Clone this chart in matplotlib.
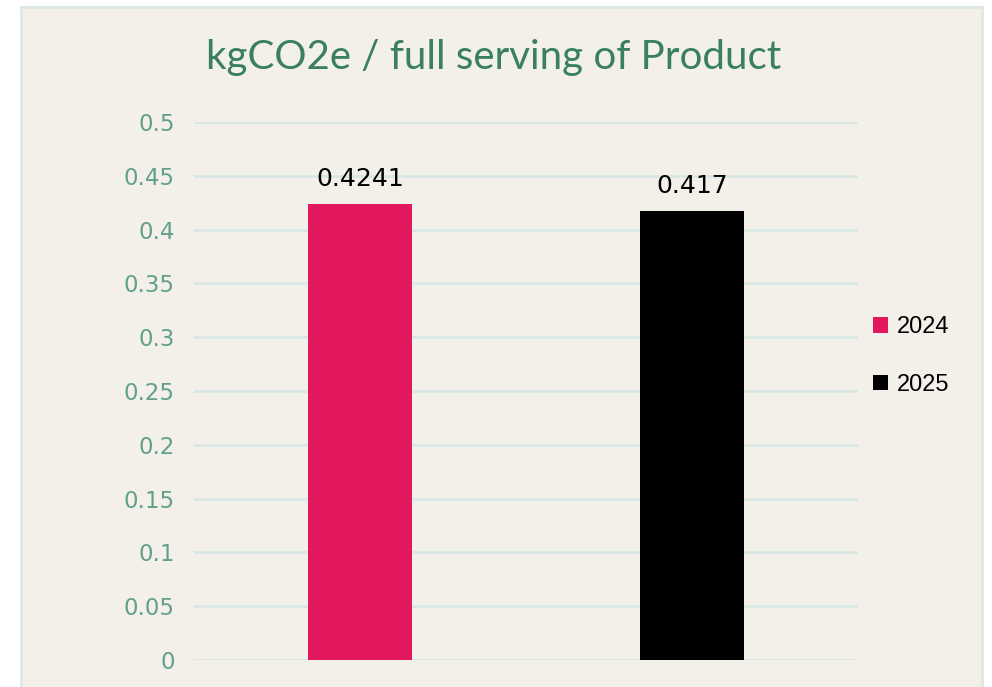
import numpy as np
import matplotlib
matplotlib.use("Agg")
import matplotlib.pyplot as plt
from matplotlib.patches import Rectangle

#==========================================================================
#			DATA
#==========================================================================
years = ['2024', '2025']
values = [0.4241, 0.417]
value_labels = ['0.4241', '0.417']
bar_colors = ['#E2185F', '#000000']
yticks = [0, 0.05, 0.1, 0.15, 0.2, 0.25, 0.3, 0.35, 0.4, 0.45, 0.5]
ytick_labels = ['0', '0.05', '0.1', '0.15', '0.2', '0.25', '0.3', '0.35', '0.4', '0.45', '0.5']
title = 'kgCO2e / full serving of Product'

#==========================================================================
#			PLOTTING
#==========================================================================
W, H = 992, 687
fig = plt.figure(figsize=(W / 100., H / 100.), dpi=100)
fig.patch.set_facecolor('white')

#Chart panel (behind the axes)
panel = Rectangle((21. / W, -0.01), 961. / W, (H - 7.) / H + 0.01, transform=fig.transFigure,
                  facecolor='#F3F0EA', edgecolor='#DCE8E4', linewidth=2, zorder=-10)
fig.patches.append(panel)

ax = fig.add_axes([194. / W, 1 - 660. / H, 664. / W, (660. - 122.) / H])
ax.set_facecolor('none')
ax.set_zorder(1)

x = np.arange(len(years))
bars = ax.bar(x, values, width=0.316, color=bar_colors, label=years, zorder=3)

for xi, v, lab in zip(x, values, value_labels):
    ax.text(xi, v + 0.012, lab, ha='center', va='bottom', fontsize=18,
            family='DejaVu Sans', color='black')

ax.set_xlim(-0.5, 1.5)
ax.set_ylim(0, 0.5)
ax.set_yticks(yticks)
ax.set_yticklabels(ytick_labels, fontsize=16.5, color='#62A08C', family='DejaVu Sans')
ax.tick_params(axis='y', length=0, pad=14)
ax.set_xticks([])
ax.grid(axis='y', color='#D9E8E3', linewidth=2, zorder=0)
for s in ax.spines.values():
    s.set_visible(False)

fig.text(494. / W, 1 - 58. / H, title, ha='center', va='center', fontsize=29,
         color='#3A7F62', family='Lato')

#Legend
leg = ax.legend(handles=list(bars), labels=years, loc='center left',
                bbox_to_anchor=(1.0226, 0.565), frameon=False,
                prop={'family': 'Liberation Sans', 'size': 17},
                handlelength=0.65, handleheight=0.65, handletextpad=0.35,
                labelspacing=1.5, borderpad=0, borderaxespad=0)

fig.savefig('out.png', dpi=100, facecolor=fig.get_facecolor())
